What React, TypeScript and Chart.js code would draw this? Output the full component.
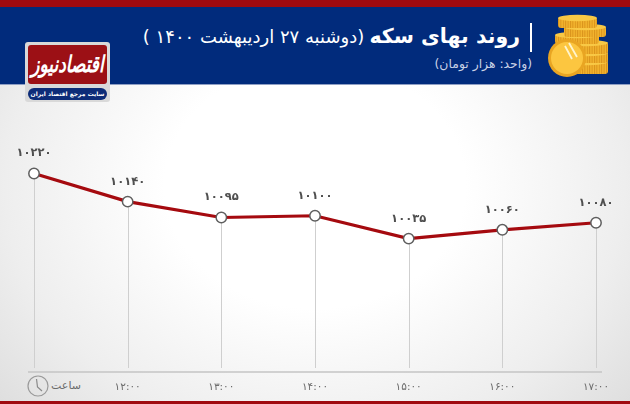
import React, { useEffect, useRef } from "react";
import { Chart, registerables } from "chart.js";

Chart.register(...registerables);

const hours = ["", "۱۲:۰۰", "۱۳:۰۰", "۱۴:۰۰", "۱۵:۰۰", "۱۶:۰۰", "۱۷:۰۰"];
const prices = [10220, 10140, 10095, 10100, 10035, 10060, 10080];
const priceLabels = ["۱۰۲۲۰", "۱۰۱۴۰", "۱۰۰۹۵", "۱۰۱۰۰", "۱۰۰۳۵", "۱۰۰۶۰", "۱۰۰۸۰"];
const titleBold = "روند بهای سکه";
const titleRest = "(دوشنبه ۲۷ اردیبهشت ۱۴۰۰ )";
const subtitle = "(واحد: هزار تومان)";
const timeWord = "ساعت";
const logoName = "اقتصادنیوز";
const logoTag = "سایت مرجع اقتصاد ایران";
const FONT = '"DejaVu Sans", "Noto Sans", sans-serif';

const decorPlugin = {
  id: "decor",
  beforeDatasetsDraw(chart: any) {
    const { ctx, scales, chartArea } = chart;
    ctx.save();
    ctx.strokeStyle = "#cfcfcf";
    ctx.lineWidth = 1;
    prices.forEach((v, i) => {
      const x = Math.round(scales.x.getPixelForValue(i)) + 0.5;
      ctx.beginPath();
      ctx.moveTo(x, scales.y.getPixelForValue(v));
      ctx.lineTo(x, chartArea.bottom - 4);
      ctx.stroke();
    });
    ctx.strokeStyle = "#c4c4c4";
    ctx.lineWidth = 1.5;
    ctx.beginPath();
    ctx.moveTo(chartArea.left - 6, chartArea.bottom);
    ctx.lineTo(chartArea.right + 6, chartArea.bottom);
    ctx.stroke();
    ctx.restore();
  },
  afterDatasetsDraw(chart: any) {
    const { ctx, scales } = chart;
    ctx.save();
    ctx.fillStyle = "#4f4f4f";
    ctx.font = `bold 11.5px ${FONT}`;
    ctx.textAlign = "center";
    ctx.textBaseline = "middle";
    (ctx as any).letterSpacing = "1.6px";
    prices.forEach((v, i) => {
      ctx.fillText(priceLabels[i], scales.x.getPixelForValue(i), scales.y.getPixelForValue(v) - 20);
    });
    ctx.restore();
  },
};

function Coins() {
  const stack = [
    [15, 47, 47, 13], [18, 38, 44, 11], [12, 28, 50, 12], [9, 20, 44, 10], [18, 12, 42, 11], [12, 3, 39, 11],
  ];
  return (
    <svg width="70" height="66" viewBox="0 0 70 66" style={{ position: "absolute", left: 546, top: 13 }}>
      <defs>
        <pattern id="ridge" width="2.4" height="6" patternUnits="userSpaceOnUse">
          <rect width="2.4" height="6" fill="#f3b52f" />
          <rect width="1" height="6" fill="#d9921b" />
        </pattern>
      </defs>
      {stack.map(([x, y, w, h], i) => (
        <g key={i}>
          <rect x={x} y={y + 1} width={w} height={h} rx="3" fill="url(#ridge)" />
          <ellipse cx={x + w / 2} cy={y + 2} rx={w / 2} ry="3.2" fill="#f8c845" />
        </g>
      ))}
      <circle cx="21" cy="45" r="19" fill="#e9a522" />
      <circle cx="21" cy="45" r="16" fill="#fcc640" />
      <path d="M23 30 L31 44 M19 33 L26 46" stroke="#fff4cc" strokeWidth="1.8" />
    </svg>
  );
}

export default function App() {
  const ref = useRef<HTMLCanvasElement>(null);
  useEffect(() => {
    const chart = new Chart(ref.current as HTMLCanvasElement, {
      type: "line",
      data: {
        labels: hours,
        datasets: [
          {
            data: prices,
            borderColor: "#a50a0f",
            borderWidth: 3.2,
            tension: 0,
            pointRadius: 5.2,
            pointBackgroundColor: "#ffffff",
            pointBorderColor: "#5f5f5f",
            pointBorderWidth: 1.5,
          },
        ],
      },
      options: {
        animation: false,
        responsive: false,
        devicePixelRatio: 1,
        layout: { padding: { left: 34, right: 34, top: 120, bottom: 0 } },
        plugins: { legend: { display: false }, tooltip: { enabled: false } },
        scales: {
          x: {
            offset: false,
            grid: { display: false },
            border: { display: false },
            afterFit: (s: any) => {
              s.height = 32;
              s.paddingLeft = 0;
              s.paddingRight = 0;
            },
            ticks: {
              color: "#6b6b6b",
              font: { size: 10.5, family: FONT },
              padding: 1,
              maxRotation: 0,
              autoSkip: false,
            },
          },
          y: { display: false, min: 9656, max: 10372 },
        },
      },
      plugins: [decorPlugin],
    } as any);
    return () => chart.destroy();
  }, []);

  return (
    <div
      style={{
        position: "absolute", left: 0, top: 0, width: 630, height: 404, overflow: "hidden",
        fontFamily: FONT,
        background: "radial-gradient(ellipse 430px 350px at 50% 46%, #ffffff 35%, #eeeeee 72%, #dcdcdc 100%)",
      }}
    >
      <div style={{ position: "absolute", left: 0, top: 0, width: 630, height: 7, background: "#a00a10" }} />
      <div style={{ position: "absolute", left: 0, top: 7, width: 630, height: 77, background: "#012b7c", borderBottom: "1px solid #8f9fc4" }} />
      <div style={{ position: "absolute", left: 0, top: 401, width: 630, height: 3, background: "#a00a10" }} />

      <div style={{ position: "absolute", left: 530, top: 23, width: 2, height: 29, background: "#fff" }} />
      <div dir="rtl" style={{ position: "absolute", right: 110, top: 20, whiteSpace: "nowrap", color: "#fff", lineHeight: "32px" }}>
        <span style={{ fontWeight: 700, fontSize: 20.5 }}>{titleBold}</span>{" "}
        <span style={{ fontSize: 18 }}>{titleRest}</span>
      </div>
      <div dir="rtl" style={{ position: "absolute", right: 98, top: 55, whiteSpace: "nowrap", color: "#c9d2e6", fontSize: 12.4, lineHeight: "18px" }}>
        {subtitle}
      </div>
      <Coins />

      <div style={{ position: "absolute", left: 25, top: 42, width: 85, height: 60, borderRadius: 3, background: "#d9d9d9" }} />
      <div style={{ position: "absolute", left: 28, top: 45, width: 79, height: 39, borderRadius: 3, background: "#9c1015", overflow: "hidden" }}>
        <div style={{ color: "#fff", fontWeight: 700, fontStyle: "italic", fontSize: 17, lineHeight: "39px", textAlign: "center", whiteSpace: "nowrap", transform: "scaleY(1.35)" }}>
          {logoName}
        </div>
      </div>
      <div dir="rtl" style={{ position: "absolute", left: 28, top: 88, width: 79, height: 12, borderRadius: 6, background: "#0d2c78", color: "#fff", fontWeight: 700, fontSize: 6, lineHeight: "12px", textAlign: "center", whiteSpace: "nowrap" }}>
        {logoTag}
      </div>

      <svg width="24" height="24" viewBox="0 0 24 24" style={{ position: "absolute", left: 26, top: 374 }}>
        <circle cx="12" cy="12" r="10" fill="none" stroke="#9a9a9a" strokeWidth="1.2" />
        <path d="M10.5 5 L11.5 13 L16 17" fill="none" stroke="#8a8a8a" strokeWidth="1.2" />
      </svg>
      <div dir="rtl" style={{ position: "absolute", left: 50, top: 378, width: 32, color: "#6b6b6b", fontSize: 11, lineHeight: "16px", textAlign: "center", letterSpacing: 0 }}>
        {timeWord}
      </div>

      <canvas ref={ref} width={630} height={404} style={{ position: "absolute", left: 0, top: 0, width: 630, height: 404 }} />
    </div>
  );
}
